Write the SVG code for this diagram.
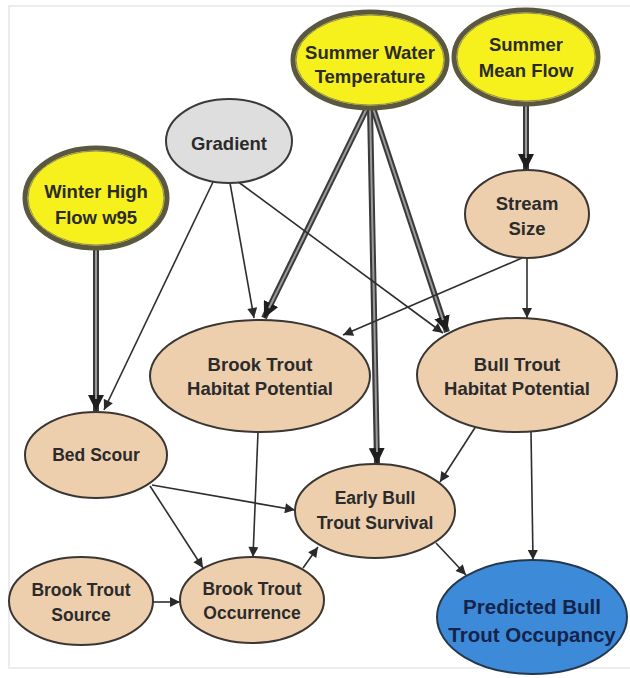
<svg xmlns="http://www.w3.org/2000/svg" width="630" height="678" viewBox="0 0 630 678">
<defs>
<marker id="ah" viewBox="0 0 10 10" refX="10" refY="5" markerWidth="11" markerHeight="10" markerUnits="userSpaceOnUse" orient="auto">
<path d="M0,0 L10,5 L0,10 z" fill="#2a2a2a"/>
</marker>
<marker id="ahk" viewBox="0 0 10 10" refX="10" refY="5" markerWidth="16" markerHeight="16" markerUnits="userSpaceOnUse" orient="auto">
<path d="M0,0 L10,5 L0,10 z" fill="#1e1e1e"/>
</marker>
<style>
.bg{fill:#ffffff}
.frame{fill:none;stroke:#ececec;stroke-width:2}
.tan{fill:#edcfae;stroke:#3a3632;stroke-width:2}
.gray{fill:#dedede;stroke:#3a3a3a;stroke-width:2}
.yel{fill:#f6f01c;stroke:#5a5840;stroke-width:5}
.yelin{fill:none;stroke:#8f8b5c;stroke-width:1}
.blue{fill:#3d8ad8;stroke:#24384e;stroke-width:2}
.t{font-family:"Liberation Sans",Arial,sans-serif;font-weight:bold;font-size:18.5px;fill:#2b2b2b;text-anchor:middle}
.ts{font-size:17.5px}
.tb{font-size:20.5px;fill:#15244a}
.thin{fill:none;stroke:#2e2e2e;stroke-width:1.6;marker-end:url(#ah)}
.thk{fill:none;stroke:#3a3a3a;stroke-width:6;marker-end:url(#ahk)}
.thkin{fill:none;stroke:#9a9a9a;stroke-width:2}
</style>
</defs>
<rect class="bg" x="0" y="0" width="630" height="678"/>
<rect class="frame" x="9" y="6" width="640" height="662"/>

<g id="connectors">
<line class="thk" x1="526" y1="104" x2="526" y2="170"/>
<line class="thkin" x1="526" y1="104" x2="526" y2="158"/>
<line class="thk" x1="367" y1="108" x2="264" y2="318"/>
<line class="thkin" x1="367" y1="108" x2="269" y2="308"/>
<line class="thk" x1="370" y1="108" x2="377" y2="464"/>
<line class="thkin" x1="370" y1="108" x2="377" y2="452"/>
<line class="thk" x1="373" y1="108" x2="447" y2="332"/>
<line class="thkin" x1="373" y1="108" x2="443" y2="320"/>
<line class="thk" x1="96" y1="249" x2="96" y2="411"/>
<line class="thkin" x1="96" y1="249" x2="96" y2="399"/>

<line class="thin" x1="213" y1="182" x2="104" y2="410"/>
<line class="thin" x1="230" y1="183" x2="254" y2="318"/>
<line class="thin" x1="237" y1="181" x2="443" y2="333"/>
<line class="thin" x1="522" y1="258" x2="343" y2="335"/>
<line class="thin" x1="527" y1="258" x2="527" y2="318"/>
<line class="thin" x1="258" y1="432" x2="253" y2="557"/>
<line class="thin" x1="150" y1="486" x2="203" y2="568"/>
<line class="thin" x1="152" y1="485" x2="295" y2="510"/>
<line class="thin" x1="478" y1="423" x2="440" y2="482"/>
<line class="thin" x1="531" y1="432" x2="533" y2="560"/>
<line class="thin" x1="436" y1="543" x2="466" y2="575"/>
<line class="thin" x1="153" y1="602" x2="180" y2="602"/>
<line class="thin" x1="303" y1="568" x2="318" y2="547"/>
</g>

<g id="summer-water-temperature">
<ellipse class="yel" cx="370" cy="60" rx="77" ry="48"/>
<ellipse class="yelin" cx="370" cy="60" rx="74" ry="45"/>
<text class="t" x="370" y="59">Summer Water</text>
<text class="t" x="370" y="83">Temperature</text>
</g>

<g id="summer-mean-flow">
<ellipse class="yel" cx="526" cy="57" rx="72" ry="47"/>
<ellipse class="yelin" cx="526" cy="57" rx="69" ry="44"/>
<text class="t" x="526" y="51">Summer</text>
<text class="t" x="526" y="77">Mean Flow</text>
</g>

<g id="winter-high-flow">
<ellipse class="yel" cx="96" cy="198" rx="71" ry="50"/>
<ellipse class="yelin" cx="96" cy="198" rx="68" ry="47"/>
<text class="t" x="96" y="198">Winter High</text>
<text class="t" x="96" y="224">Flow w95</text>
</g>

<g id="gradient">
<ellipse class="gray" cx="229" cy="141" rx="63" ry="42"/>
<text class="t" x="229" y="150">Gradient</text>
</g>

<g id="stream-size">
<ellipse class="tan" cx="527" cy="214" rx="62" ry="44"/>
<text class="t" x="527" y="210">Stream</text>
<text class="t" x="527" y="235">Size</text>
</g>

<g id="brook-trout-habitat">
<ellipse class="tan" cx="260" cy="376" rx="110" ry="56"/>
<text class="t" x="260" y="371">Brook Trout</text>
<text class="t" x="260" y="395">Habitat Potential</text>
</g>

<g id="bull-trout-habitat">
<ellipse class="tan" cx="517" cy="375" rx="100" ry="57"/>
<text class="t" x="517" y="371">Bull Trout</text>
<text class="t" x="517" y="395">Habitat Potential</text>
</g>

<g id="bed-scour">
<ellipse class="tan" cx="96" cy="455" rx="71" ry="43"/>
<text class="t ts" x="96" y="461">Bed Scour</text>
</g>

<g id="early-bull-trout-survival">
<ellipse class="tan" cx="375" cy="511" rx="80" ry="47"/>
<text class="t ts" x="375" y="504">Early Bull</text>
<text class="t ts" x="375" y="529">Trout Survival</text>
</g>

<g id="brook-trout-source">
<ellipse class="tan" cx="81" cy="601" rx="72" ry="44"/>
<text class="t ts" x="81" y="596">Brook Trout</text>
<text class="t ts" x="81" y="621">Source</text>
</g>

<g id="brook-trout-occurrence">
<ellipse class="tan" cx="252" cy="600" rx="72" ry="43"/>
<text class="t ts" x="252" y="595">Brook Trout</text>
<text class="t ts" x="252" y="619">Occurrence</text>
</g>

<g id="predicted-bull-trout-occupancy">
<ellipse class="blue" cx="532" cy="617" rx="95" ry="57"/>
<text class="t tb" x="532" y="614">Predicted Bull</text>
<text class="t tb" x="532" y="642">Trout Occupancy</text>
</g>
</svg>
